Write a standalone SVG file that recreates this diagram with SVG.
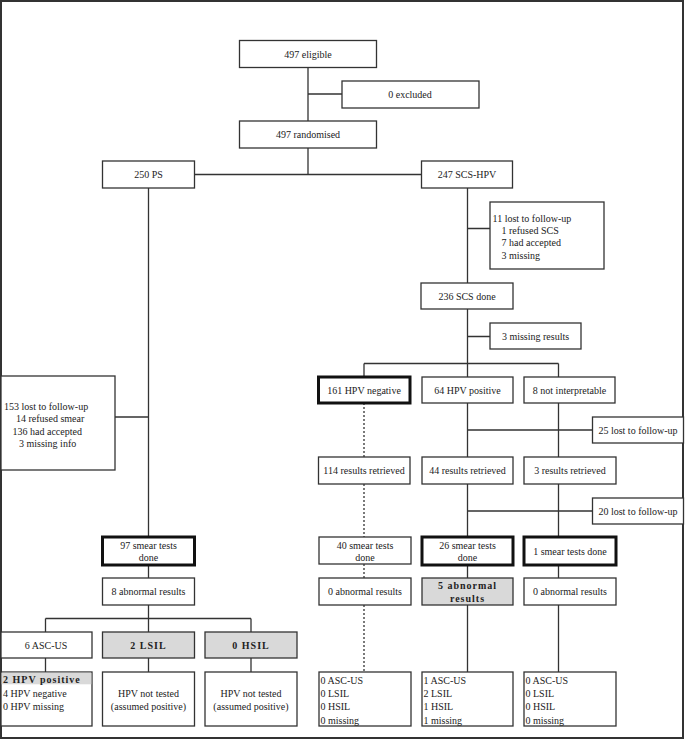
<svg xmlns="http://www.w3.org/2000/svg" width="685" height="741" viewBox="0 0 685 741">
<style>
.b{fill:#fff;stroke:#333;stroke-width:1.3}
.k{fill:#fff;stroke:#111;stroke-width:3}
.g{fill:#d9d9d9;stroke:#333;stroke-width:1.3}
.c{fill:none;stroke:#333;stroke-width:1.3}
.d{fill:none;stroke:#333;stroke-width:1.3;stroke-dasharray:2,2}
text{font-family:"Liberation Serif","Times New Roman",serif;font-size:10px;fill:#222}
.m{text-anchor:middle}
.bold{font-weight:bold;letter-spacing:1px}
</style>
<rect x="1" y="1" width="682" height="737" fill="#fff" stroke="#333" stroke-width="2"/>
<g id="connectors">
<path class="c" d="M308,67V121M308,94H342M308,148V174.5M194.5,174.5H421.5"/>
<path class="c" d="M148.5,188V537M115,417H148.5"/>
<path class="c" d="M467.5,188V283M467.5,228.5H490M467.5,309V377M467.5,336.5H490"/>
<path class="c" d="M364,363.5H558.5M364,363.5V377M558.5,363.5V377"/>
<path class="d" d="M364,403V457M364,484V537M364,564V578M364,605V672"/>
<path class="c" d="M467.5,403V457M467.5,430H592.5M558.5,403V457"/>
<path class="c" d="M467.5,484V537M467.5,511H592.5M558.5,484V537"/>
<path class="c" d="M148.5,565V578M467.5,565V578M558.5,565V578"/>
<path class="c" d="M467.5,605V672M558.5,605V672"/>
<path class="c" d="M148.5,605V618.5M45.5,618.5H251M45.5,618.5V632M148.5,618.5V632M251,618.5V632"/>
<path class="c" d="M45.5,658V672M148.5,658V672M251,658V672"/>
</g>
<g id="eligible"><rect class="b" x="239.5" y="40.5" width="137" height="27"/><text class="m" x="308" y="57.5">497 eligible</text></g>
<g id="excluded"><rect class="b" x="342" y="81" width="137" height="27"/><text class="m" x="410" y="97.5">0 excluded</text></g>
<g id="randomised"><rect class="b" x="239.5" y="121" width="137" height="27"/><text class="m" x="308" y="138">497 randomised</text></g>
<g id="ps"><rect class="b" x="102.5" y="161" width="92" height="27"/><text class="m" x="148.5" y="178">250 PS</text></g>
<g id="scshpv"><rect class="b" x="421.5" y="161" width="91" height="27"/><text class="m" x="467" y="178">247 SCS-HPV</text></g>
<g id="lost11"><rect class="b" x="490" y="202" width="114" height="67"/>
<text x="492.5" y="221.5">11 lost to follow-up</text>
<text x="501.5" y="234">1 refused SCS</text>
<text x="501.5" y="246">7 had accepted</text>
<text x="501.5" y="258.5">3 missing</text></g>
<g id="scsdone"><rect class="b" x="421" y="283" width="92" height="26"/><text class="m" x="467" y="299.5">236 SCS done</text></g>
<g id="missing3"><rect class="b" x="490" y="323" width="91" height="26"/><text class="m" x="535.5" y="339.5">3 missing results</text></g>
<g id="lost153"><rect class="b" x="1" y="376" width="114" height="94"/>
<text x="4" y="409.5">153 lost to follow-up</text>
<text x="16" y="422">14 refused smear</text>
<text x="12.5" y="434.5">136 had accepted</text>
<text x="19" y="446.5">3 missing info</text></g>
<g id="hpvneg"><rect class="k" x="318.5" y="377" width="91.5" height="26"/><text class="m" x="364" y="393.5">161 HPV negative</text></g>
<g id="hpvpos"><rect class="b" x="422" y="377" width="91" height="26"/><text class="m" x="467.5" y="393.5">64 HPV positive</text></g>
<g id="notinterp"><rect class="b" x="524" y="377" width="91" height="26"/><text class="m" x="569.5" y="393.5">8 not interpretable</text></g>
<g id="lost25"><rect class="b" x="592.5" y="417" width="91" height="26"/><text class="m" x="638" y="433.5">25 lost to follow-up</text></g>
<g id="ret114"><rect class="b" x="318.5" y="457" width="91.5" height="27"/><text class="m" x="364" y="474">114 results retrieved</text></g>
<g id="ret44"><rect class="b" x="422" y="457" width="91" height="27"/><text class="m" x="467.5" y="474">44 results retrieved</text></g>
<g id="ret3"><rect class="b" x="524" y="457" width="92" height="27"/><text class="m" x="570" y="474">3 results retrieved</text></g>
<g id="lost20"><rect class="b" x="592.5" y="498" width="91" height="26"/><text class="m" x="638" y="514.5">20 lost to follow-up</text></g>
<g id="smear97"><rect class="k" x="102.5" y="537" width="92" height="28"/><text class="m" x="148.5" y="549">97 smear tests</text><text class="m" x="148.5" y="561">done</text></g>
<g id="smear40"><rect class="b" x="319" y="537" width="92" height="27"/><text class="m" x="365" y="549">40 smear tests</text><text class="m" x="365" y="561">done</text></g>
<g id="smear26"><rect class="k" x="422" y="537" width="91" height="28"/><text class="m" x="467.5" y="549">26 smear tests</text><text class="m" x="467.5" y="561">done</text></g>
<g id="smear1"><rect class="k" x="524" y="537" width="92" height="28"/><text class="m" x="570" y="554.5">1 smear tests done</text></g>
<g id="abn8"><rect class="b" x="102.5" y="578" width="92" height="27"/><text class="m" x="148.5" y="595">8 abnormal results</text></g>
<g id="abn0a"><rect class="b" x="319" y="578" width="92" height="27"/><text class="m" x="365" y="595">0 abnormal results</text></g>
<g id="abn5"><rect class="g" x="422" y="578" width="91" height="27"/><text class="m bold" x="467.5" y="589">5 abnormal</text><text class="m bold" x="467.5" y="602">results</text></g>
<g id="abn0b"><rect class="b" x="524" y="578" width="92" height="27"/><text class="m" x="570" y="595">0 abnormal results</text></g>
<g id="ascus6"><rect class="b" x="1" y="632" width="91" height="26"/><text class="m" x="46" y="648.5">6 ASC-US</text></g>
<g id="lsil2"><rect class="g" x="102.5" y="632" width="92" height="26"/><text class="m bold" x="148.5" y="648.5">2 LSIL</text></g>
<g id="hsil0"><rect class="g" x="205" y="632" width="92" height="26"/><text class="m bold" x="251" y="648.5">0 HSIL</text></g>
<g id="hpvres"><rect class="b" x="1" y="672" width="91" height="54"/><rect x="1.7" y="672.7" width="89.6" height="11.6" fill="#d9d9d9"/>
<text class="bold" x="3" y="683">2 HPV positive</text>
<text x="3" y="696.5">4 HPV negative</text>
<text x="3" y="709.5">0 HPV missing</text></g>
<g id="nottested1"><rect class="b" x="102.5" y="672" width="92" height="54"/><text class="m" x="148.5" y="697">HPV not tested</text><text class="m" x="148.5" y="709.5">(assumed positive)</text></g>
<g id="nottested2"><rect class="b" x="205" y="672" width="92" height="54"/><text class="m" x="251" y="697">HPV not tested</text><text class="m" x="251" y="709.5">(assumed positive)</text></g>
<g id="res40"><rect class="b" x="319" y="672" width="92" height="54"/>
<text x="320.5" y="683.5">0 ASC-US</text><text x="320.5" y="697">0 LSIL</text><text x="320.5" y="710">0 HSIL</text><text x="320.5" y="723.5">0 missing</text></g>
<g id="res26"><rect class="b" x="422" y="672" width="91" height="54"/>
<text x="423.5" y="683.5">1 ASC-US</text><text x="423.5" y="697">2 LSIL</text><text x="423.5" y="710">1 HSIL</text><text x="423.5" y="723.5">1 missing</text></g>
<g id="res1"><rect class="b" x="524" y="672" width="92" height="54"/>
<text x="525.5" y="683.5">0 ASC-US</text><text x="525.5" y="697">0 LSIL</text><text x="525.5" y="710">0 HSIL</text><text x="525.5" y="723.5">0 missing</text></g>
</svg>
